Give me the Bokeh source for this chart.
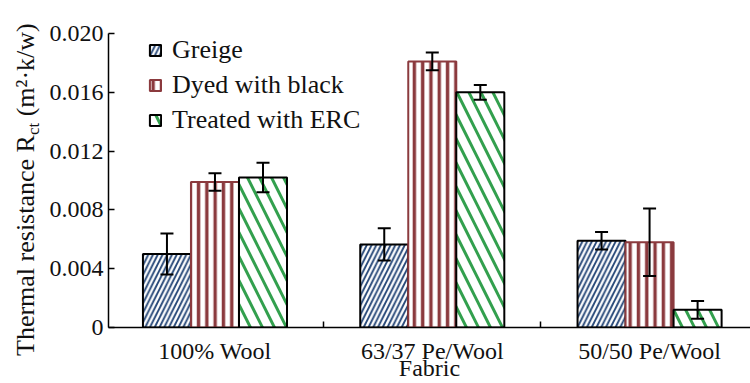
from bokeh.plotting import figure
from bokeh.layouts import row
from bokeh.models import (ColumnDataSource, Whisker, TeeHead, FixedTicker,
                          Legend, LegendItem, Div)
from bokeh.embed import file_html
from bokeh.resources import INLINE

# ---------------- data ----------------
categories = ["100% Wool", "63/37 Pe/Wool", "50/50 Pe/Wool"]
series = ["Greige", "Dyed with black", "Treated with ERC"]
greige = [0.0050, 0.00565, 0.0059]
greige_err = [0.0014, 0.0011, 0.0006]
dyed = [0.0099, 0.0181, 0.0058]
dyed_err = [0.0006, 0.0006, 0.0023]
erc = [0.0102, 0.0160, 0.0012]
erc_err = [0.0010, 0.0005, 0.0006]
y_ticks = [0, 0.004, 0.008, 0.012, 0.016, 0.020]
y_tick_labels = ["0", "0.004", "0.008", "0.012", "0.016", "0.020"]
y_title_main = "Thermal resistance R"
y_title_sub = "ct"
y_title_unit = "(m\u00b2\u00b7k/w)"

# ---------------- layout ----------------
W, H = 750, 383
TW = 44                       # width of the strip holding the y title
FL, FR, FT, FB = 108, 750, 33, 327
x_start = -0.49
px_per_x = 217.3
x_end = x_start + (FR - FL) / px_per_x
y_start, y_end = 0.0, 0.020

FONT = "Liberation Serif"
TXT = "#111111"

p = figure(width=W - TW, height=H, output_backend="svg", toolbar_location=None,
           x_range=(x_start, x_end), y_range=(y_start, y_end),
           min_border_left=FL - TW, min_border_right=W - FR,
           min_border_top=FT, min_border_bottom=H - FB)
p.outline_line_color = None
p.xgrid.visible = False
p.ygrid.visible = False

bar_w = 0.221
offsets = [-bar_w, 0.0, bar_w]
values = [greige, dyed, erc]
errors = [greige_err, dyed_err, erc_err]
styles = [
    dict(hatch_pattern="/", hatch_color="#264778", hatch_scale=9.5, hatch_weight=1.9,
         line_color="black", line_width=2),
    dict(hatch_pattern="|", hatch_color="#8b3a3e", hatch_scale=8.3, hatch_weight=3.4,
         line_color="#8b3a3e", line_width=2),
    dict(hatch_pattern="\\", hatch_color="#33a04e", hatch_scale=24, hatch_weight=3,
         line_color="black", line_width=2),
]

items = []
for name, vals, errs, off, st in zip(series, values, errors, offsets, styles):
    xs = [i + off for i in range(len(categories))]
    src = ColumnDataSource(dict(
        x=xs, top=vals,
        upper=[v + e for v, e in zip(vals, errs)],
        lower=[v - e for v, e in zip(vals, errs)],
    ))
    r = p.vbar(x="x", top="top", width=bar_w, bottom=0, source=src,
               fill_color="white", **st)
    items.append(LegendItem(label=name, renderers=[r]))
    wk = Whisker(source=src, base="x", upper="upper", lower="lower",
                 line_color="black", line_width=2, level="annotation",
                 upper_head=TeeHead(size=13, line_width=2, line_color="black"),
                 lower_head=TeeHead(size=13, line_width=2, line_color="black"))
    p.add_layout(wk)

legend = Legend(items=items, location=(40, 192), glyph_width=14, glyph_height=14,
                label_standoff=10, label_height=29, spacing=5, padding=0, margin=0,
                border_line_color=None, background_fill_alpha=0,
                label_text_font=FONT, label_text_font_size="26px",
                label_text_color=TXT)
p.add_layout(legend)

# x axis
p.xaxis.ticker = FixedTicker(ticks=[0, 1, 2], minor_ticks=[0.5, 1.5, 2.5])
p.xaxis.major_label_overrides = {i: c for i, c in enumerate(categories)}
p.xaxis.major_tick_line_color = None
p.xaxis.minor_tick_in = 6
p.xaxis.minor_tick_out = 0
p.xaxis.minor_tick_line_width = 1.5
p.xaxis.minor_tick_line_color = "black"
p.xaxis.axis_line_color = "black"
p.xaxis.axis_line_width = 1.5
p.xaxis.major_label_text_font = FONT
p.xaxis.major_label_text_font_size = "24px"
p.xaxis.major_label_text_color = TXT
p.xaxis.major_label_standoff = 4
p.xaxis.axis_label = "Fabric"
p.xaxis.axis_label_text_font = FONT
p.xaxis.axis_label_text_font_size = "24px"
p.xaxis.axis_label_text_font_style = "normal"
p.xaxis.axis_label_text_color = TXT
p.xaxis.axis_label_standoff = -12

# y axis
p.yaxis.ticker = FixedTicker(ticks=y_ticks, minor_ticks=[])
p.yaxis.major_label_overrides = dict(zip(y_ticks, y_tick_labels))
p.yaxis.major_tick_in = 6
p.yaxis.major_tick_out = 0
p.yaxis.major_tick_line_width = 1.5
p.yaxis.major_tick_line_color = "black"
p.yaxis.minor_tick_line_color = None
p.yaxis.axis_line_color = "black"
p.yaxis.axis_line_width = 1.5
p.yaxis.major_label_text_font = FONT
p.yaxis.major_label_text_font_size = "24px"
p.yaxis.major_label_text_color = TXT
p.yaxis.major_label_standoff = 5

# ---------------- y title (rotated HTML text with real subscript) ----------------
title_html = (
    f'<div style="position:relative;width:{TW}px;height:{H}px;overflow:visible;">'
    f'<span style="position:absolute;left:13px;top:356px;transform-origin:0 0;'
    f'transform:rotate(-90deg);white-space:nowrap;font-family:\'{FONT}\';'
    f'font-size:26px;line-height:26px;color:{TXT};">'
    f'{y_title_main}<span style="font-size:17px;position:relative;top:5px;">'
    f'{y_title_sub}</span> {y_title_unit}</span></div>'
)
title_div = Div(text=title_html, width=TW, height=H, margin=0)

layout = row(title_div, p, spacing=0)
open("out.html", "w").write(file_html(layout, INLINE))
